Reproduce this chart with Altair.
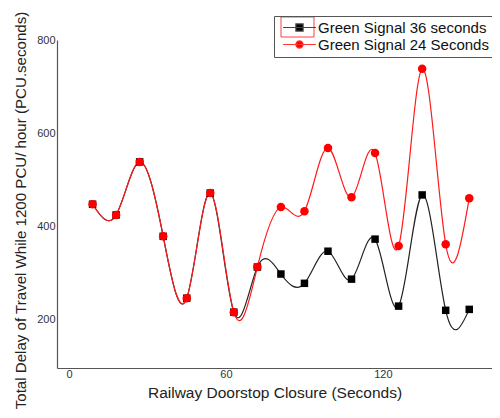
import altair as alt
import pandas as pd

closure = [9, 18, 27, 36, 45, 54, 63, 72, 81, 90, 99, 108, 117, 126, 135, 144, 153]
green36 = [447, 424, 538, 378, 245, 471, 215, 312, 297, 277, 346, 286, 372, 228, 467, 219, 221]
green24 = [447, 424, 538, 378, 245, 471, 215, 312, 441, 432, 568, 462, 557, 357, 738, 361, 460]
series_names = ["Green Signal 36  seconds", "Green Signal 24 Seconds"]
x_ticks = [0, 60, 120]
y_ticks = [200, 400, 600, 800]

rows = []
for name, vals in zip(series_names, [green36, green24]):
    for x, y in zip(closure, vals):
        rows.append({"x": x, "y": y, "series": name})
df = pd.DataFrame(rows)

xs = alt.Scale(domain=[-4.6, 161.7], nice=False, zero=False)
ys = alt.Scale(domain=[95, 800], nice=False, zero=False)

xenc = alt.X("x:Q", scale=xs, axis=alt.Axis(
    values=x_ticks, title="Railway Doorstop Closure (Seconds)", grid=False,
    domainColor="#555", domainWidth=1.2, ticks=False, labelPadding=0,
    labelFont="Liberation Sans", labelFontSize=11, labelColor="#333",
    titleFont="Liberation Sans", titleFontSize=15.5, titleFontWeight="normal",
    titleColor="#222", titlePadding=6))
yenc = alt.Y("y:Q", scale=ys, axis=alt.Axis(
    values=y_ticks, title="Total Delay of Travel While 1200 PCU/ hour (PCU.seconds)",
    grid=False, domainColor="#555", domainWidth=1.2, ticks=False, labelPadding=2,
    labelFont="Liberation Sans", labelFontSize=11, labelColor="#333",
    titleFont="Liberation Sans", titleFontSize=15.1, titleFontWeight="normal",
    titleColor="#222", titleX=-37, titleY=170, titleAlign="center",
    titleBaseline="middle", titleAngle=-90, titleLimit=0))

color_scale = alt.Scale(domain=series_names, range=["#222222", "#ff1a1a"])

base = alt.Chart(df)

lines = base.mark_line(interpolate="natural", strokeWidth=1.2).encode(
    x=xenc, y=yenc,
    color=alt.Color("series:N", scale=color_scale, legend=None))

sq = base.transform_filter(alt.datum.series == series_names[0]).mark_point(
    shape="square", filled=True, size=56, opacity=1, color="#000000").encode(x="x:Q", y="y:Q")
circ = base.transform_filter(alt.datum.series == series_names[1]).mark_point(
    shape="circle", filled=True, size=72, opacity=1, color="#ff0000").encode(x="x:Q", y="y:Q")

line_sq = "M-4.1,0H4.1M-0.9,-0.9H0.9V0.9H-0.9Z"
line_circ = "M-4.1,0H4.1M0.9,0A0.9,0.9 0 1,1 -0.9,0A0.9,0.9 0 1,1 0.9,0Z"

legend_layer = base.transform_filter(alt.datum.x < -999).mark_point(
    size=64, strokeWidth=1.2, opacity=1).encode(
    x="x:Q", y="y:Q",
    shape=alt.Shape("series:N", scale=alt.Scale(domain=series_names, range=[line_sq, line_circ]),
                    legend=alt.Legend(title=None, orient="none", legendX=217, legendY=-24,
                                      padding=4, rowPadding=1, symbolOffset=14,
                                      labelOffset=11, labelFont="Liberation Sans",
                                      labelFontSize=15, labelColor="#111", labelLimit=0,
                                      strokeColor="#555",
                                      symbolSize=64, symbolStrokeWidth=1.2)),
    fill=alt.Fill("series:N", scale=alt.Scale(domain=series_names, range=["#000000", "#ff0000"])),
    stroke=alt.Stroke("series:N", scale=alt.Scale(domain=series_names, range=["#444444", "#ff3333"])),
)

# selection highlight box around the first legend symbol (as in the source image)
highlight = alt.Chart(pd.DataFrame({"k": [0]})).mark_rect(
    fill=None, stroke="#ff4040", strokeWidth=1, clip=False).encode(
    x=alt.value(224), x2=alt.value(257), y=alt.value(-23), y2=alt.value(-3))

chart = alt.layer(lines, sq, circ, legend_layer, highlight).resolve_scale(
    color="independent").properties(
    width=435, height=328,
    background="white",
    autosize=alt.AutoSizeParams(type="none"),
    padding={"left": 49, "top": 32, "right": 0, "bottom": 42},
).configure_view(strokeWidth=0, strokeOpacity=0).configure_axis(grid=False)

chart.save("out.html", embed_options={"renderer": "svg", "actions": False})
